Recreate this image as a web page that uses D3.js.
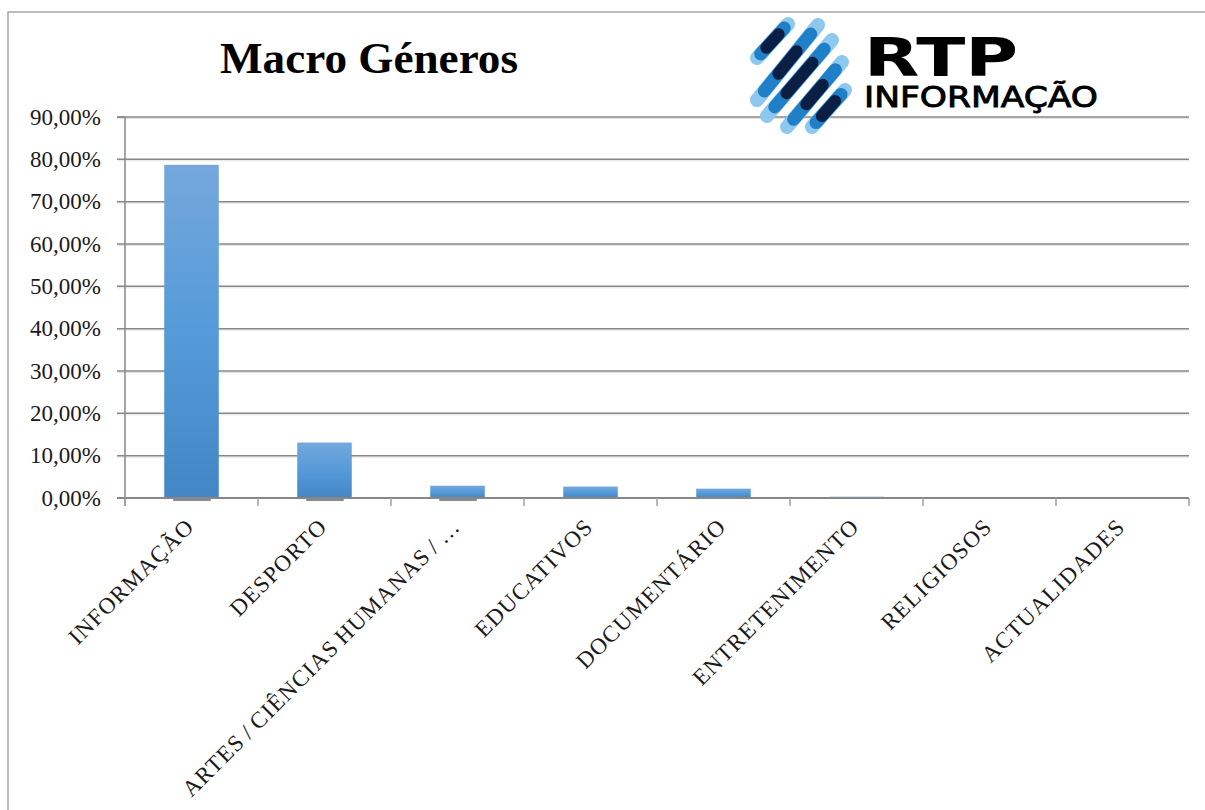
<!DOCTYPE html>
<html><head><meta charset="utf-8">
<script src="https://cdn.jsdelivr.net/npm/d3@7"></script>
<style>html,body{margin:0;padding:0;background:#fff;}</style>
</head><body>
<svg id="chart" width="1205" height="810"></svg>
<script>
const categories = ["INFORMAÇÃO","DESPORTO","ARTES / CIÊNCIAS HUMANAS / …","EDUCATIVOS","DOCUMENTÁRIO","ENTRETENIMENTO","RELIGIOSOS","ACTUALIDADES"];
const values = [0.787, 0.131, 0.029, 0.027, 0.022, 0.003, 0.0, 0.0];
const yTicks = [0,0.1,0.2,0.3,0.4,0.5,0.6,0.7,0.8,0.9];
const title = "Macro Géneros";

const svg = d3.select("#chart");
const W = 1205, H = 810;
const m = {left:125, right:1189, top:117, bottom:498};
svg.append("rect").attr("width",W).attr("height",H).attr("fill","#fff");

// frame
svg.append("path").attr("d",`M8,${H} L8,12 L${W},12`).attr("fill","none").attr("stroke","#a6a6a6").attr("stroke-width",1.5);

const x = d3.scaleBand().domain(categories).range([m.left,m.right]).paddingInner(0.59).paddingOuter(0.295);
const xb = d3.scaleBand().domain(categories).range([m.left,m.right]);
const y = d3.scaleLinear().domain([0,0.9]).range([m.bottom,m.top]);
const loc = d3.formatLocale({decimal:",",thousands:".",grouping:[3],currency:["","€"]});
const fmt = loc.format(".2%");

const defs = svg.append("defs");
const g = defs.append("linearGradient").attr("id","barg").attr("x1",0).attr("y1",0).attr("x2",0).attr("y2",1);
g.append("stop").attr("offset","0%").attr("stop-color","#74a8dc");
g.append("stop").attr("offset","50%").attr("stop-color","#559ad9");
g.append("stop").attr("offset","100%").attr("stop-color","#4386c6");

// gridlines
const grid = svg.append("g");
yTicks.filter(d=>d>0).forEach(t=>{
  grid.append("line").attr("x1",m.left-8).attr("x2",m.right).attr("y1",y(t)+1.5).attr("y2",y(t)+1.5).attr("stroke","#e4e4e4").attr("stroke-width",1);
  grid.append("line").attr("x1",m.left-8).attr("x2",m.right).attr("y1",y(t)).attr("y2",y(t)).attr("stroke","#878787").attr("stroke-width",1.5);
});

// y labels
svg.append("g").selectAll("text").data(yTicks).join("text")
  .attr("x",101).attr("y",d=>y(d)+7.5).attr("text-anchor","end")
  .attr("font-family","'Liberation Serif', serif").attr("font-size",23).attr("fill","#1a1a1a")
  .text(d=>fmt(d));

// bar shadows
svg.append("g").selectAll("line").data(categories.slice(0,3)).join("line")
  .attr("x1",d=>x(d)+9).attr("x2",d=>x(d)+x.bandwidth()-8).attr("y1",m.bottom+2).attr("y2",m.bottom+2)
  .attr("stroke","#8a8a8a").attr("stroke-width",2);

// bars
svg.append("g").selectAll("rect").data(values).join("rect")
  .attr("x",(d,i)=>x(categories[i])).attr("width",x.bandwidth())
  .attr("y",d=>y(d)).attr("height",d=>y(0)-y(d))
  .attr("fill","url(#barg)");

// axes lines
svg.append("line").attr("x1",m.left).attr("x2",m.left).attr("y1",m.top).attr("y2",m.bottom+8).attr("stroke","#878787").attr("stroke-width",1.5);
svg.append("line").attr("x1",m.left-8).attr("x2",m.right).attr("y1",m.bottom).attr("y2",m.bottom).attr("stroke","#878787").attr("stroke-width",2);
svg.append("line").attr("x1",m.left-8).attr("x2",m.left).attr("y1",m.top).attr("y2",m.top).attr("stroke","#878787").attr("stroke-width",1.5);
const bounds = categories.map(c=>xb(c)).concat([m.right]);
svg.append("g").selectAll("line").data(bounds).join("line")
  .attr("x1",d=>d).attr("x2",d=>d).attr("y1",m.bottom).attr("y2",m.bottom+8)
  .attr("stroke","#a0a0a0").attr("stroke-width",1.5);

// x labels
svg.append("g").selectAll("text").data(categories).join("text")
  .attr("transform",d=>`translate(${xb(d)+xb.bandwidth()/2+4},${m.bottom+30}) rotate(-45)`)
  .attr("text-anchor","end")
  .attr("font-family","'Liberation Serif', serif").attr("font-size",23)
  .attr("letter-spacing",1.2).attr("word-spacing",-2).attr("fill","#1a1a1a")
  .text(d=>d);

// title
svg.append("text").attr("x",220).attr("y",73).attr("font-family","'Liberation Serif', serif")
  .attr("font-weight","bold").attr("font-size",44).attr("textLength",298).attr("lengthAdjust","spacingAndGlyphs")
  .attr("fill","#000").text(title);

// logo
const logo = svg.append("g");
const stripes = [
  [[757,58],[788,24]],
  [[757,100],[818,25]],
  [[767,116],[832,40]],
  [[787,127],[842,62]],
  [[812,127],[845,90]]
];
const lerp=(a,b,t)=>[a[0]+(b[0]-a[0])*t,a[1]+(b[1]-a[1])*t];
stripes.forEach(([a,b],i)=>{
  logo.append("line").attr("x1",a[0]).attr("y1",a[1]).attr("x2",b[0]).attr("y2",b[1]).attr("stroke","#8dc8ee").attr("stroke-width",14).attr("stroke-linecap","round");
  const p1=lerp(a,b,0.12), p2=lerp(a,b,0.88);
  logo.append("line").attr("x1",p1[0]).attr("y1",p1[1]).attr("x2",p2[0]).attr("y2",p2[1]).attr("stroke","#1f80c8").attr("stroke-width",13).attr("stroke-linecap","round");
  const q1=lerp(a,b,0.3+0.05*(i%2)), q2=lerp(a,b,0.7-0.05*(i%2));
  logo.append("line").attr("x1",q1[0]).attr("y1",q1[1]).attr("x2",q2[0]).attr("y2",q2[1]).attr("stroke","#0b1f45").attr("stroke-width",12).attr("stroke-linecap","round");
});
logo.append("text").attr("x",864).attr("y",76).attr("font-family","'DejaVu Sans', sans-serif").attr("font-weight","bold")
  .attr("font-size",54).attr("textLength",154).attr("lengthAdjust","spacingAndGlyphs").attr("fill","#000").text("RTP");
logo.append("text").attr("x",864).attr("y",107).attr("font-family","'DejaVu Sans', sans-serif")
  .attr("font-size",29).attr("textLength",234).attr("lengthAdjust","spacingAndGlyphs")
  .attr("fill","#000").attr("stroke","#000").attr("stroke-width",0.9).text("INFORMAÇÃO");
</script>
</body></html>
